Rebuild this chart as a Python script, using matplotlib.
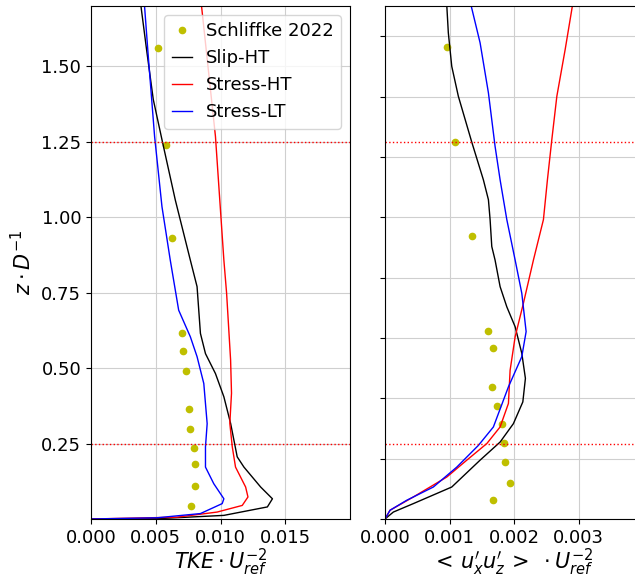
import numpy as np
import matplotlib
matplotlib.use("Agg")
import matplotlib.pyplot as plt

# reference measurements (Schliffke 2022)
ref_tke_z = [1.56, 1.24, 0.932, 0.617, 0.556, 0.49, 0.363, 0.297, 0.235, 0.181, 0.109, 0.043]
ref_tke = [0.00514, 0.00581, 0.00628, 0.00703, 0.00711, 0.00734, 0.00757, 0.00765, 0.00798, 0.00804, 0.00804, 0.00775]
ref_uw_z = [1.563, 1.249, 0.937, 0.624, 0.566, 0.438, 0.374, 0.315, 0.252, 0.188, 0.119, 0.062]
ref_uw = [0.000966, 0.00108, 0.00135, 0.0016, 0.00167, 0.00165, 0.00174, 0.00181, 0.00184, 0.00186, 0.00193, 0.00167]

# TKE profiles
tke_slip_z = [1.702, 1.546, 1.39, 1.257, 1.057, 0.858, 0.77, 0.615, 0.548, 0.482, 0.405, 0.317,
              0.206, 0.172, 0.106, 0.067, 0.04, 0.012, 0.001, 0.0]
tke_slip = [0.00385, 0.00432, 0.00481, 0.00548, 0.00651, 0.00767, 0.00819, 0.00845, 0.00884, 0.00961,
            0.01026, 0.01078, 0.01129, 0.01181, 0.0131, 0.01401, 0.01362, 0.01026, 0.00509, 0.0]
tke_sht_z = [1.702, 1.268, 0.858, 0.749, 0.527, 0.417, 0.317, 0.239, 0.172, 0.106, 0.073, 0.045,
             0.023, 0.006, 0.0]
tke_sht = [0.00853, 0.00961, 0.01026, 0.01047, 0.01078, 0.01085, 0.01072, 0.01091, 0.01116, 0.01194,
           0.01212, 0.01168, 0.00974, 0.00664, 0.0]
tke_slt_z = [1.702, 1.546, 1.268, 1.035, 0.858, 0.692, 0.604, 0.538, 0.449, 0.316, 0.239, 0.172,
             0.117, 0.067, 0.051, 0.018, 0.004, 0.0]
tke_slt = [0.00413, 0.0044, 0.00491, 0.00548, 0.00612, 0.00677, 0.00767, 0.00819, 0.00871, 0.00897,
           0.00884, 0.00884, 0.00948, 0.01026, 0.01013, 0.00845, 0.00509, 0.0]

# <u'x u'z> profiles
uw_slip_z = [1.702, 1.611, 1.5, 1.401, 1.249, 1.124, 1.058, 0.992, 0.903, 0.858, 0.77, 0.703, 0.637,
             0.549, 0.466, 0.388, 0.316, 0.255, 0.195, 0.106, 0.051, 0.023, 0.0]
uw_slip = [0.000957, 0.000981, 0.001034, 0.001136, 0.001344, 0.001524, 0.001602, 0.001628, 0.001654,
           0.001705, 0.001783, 0.001887, 0.002016, 0.002119, 0.002175, 0.002135, 0.001989, 0.001783,
           0.001473, 0.001034, 0.000439, 0.000129, 0.0]
uw_sht_z = [1.702, 1.556, 1.401, 1.257, 1.124, 0.992, 0.858, 0.715, 0.604, 0.493, 0.383, 0.305,
            0.25, 0.195, 0.139, 0.073, 0.029, 0.0]
uw_sht = [0.002904, 0.002791, 0.002662, 0.002584, 0.002516, 0.002454, 0.002299, 0.002144, 0.002016,
          0.001938, 0.001912, 0.001783, 0.001577, 0.001267, 0.000957, 0.000439, 0.000078, 0.0]
uw_slt_z = [1.702, 1.578, 1.412, 1.235, 1.124, 0.992, 0.858, 0.748, 0.621, 0.538, 0.438, 0.305,
            0.244, 0.172, 0.106, 0.062, 0.029, 0.0]
uw_slt = [0.001333, 0.001473, 0.001602, 0.001705, 0.001783, 0.001887, 0.002016, 0.002119, 0.002186,
          0.002119, 0.001912, 0.001679, 0.001447, 0.001112, 0.000749, 0.000336, 0.000078, 0.0]

hlines = [0.25, 1.25]

plt.rcParams['font.size'] = 13
plt.rcParams['grid.color'] = '#cfcfcf'

fig = plt.figure(figsize=(6.35, 5.78), dpi=100)
W, H = 635, 578
ax1 = fig.add_axes([91 / W, (H - 519) / H, 259 / W, 513 / H])
ax2 = fig.add_axes([385 / W, (H - 519) / H, 255 / W, 513 / H])

ax1.plot(ref_tke, ref_tke_z, 'o', color='y', markersize=4.5, label='Schliffke 2022')
ax1.plot(tke_slip, tke_slip_z, color='k', lw=1, label='Slip-HT')
ax1.plot(tke_sht, tke_sht_z, color='r', lw=1, label='Stress-HT')
ax1.plot(tke_slt, tke_slt_z, color='b', lw=1, label='Stress-LT')
for h in hlines:
    ax1.axhline(h, color='r', ls=':', lw=1)
ax1.set_xlim(0, 0.02)
ax1.set_ylim(0, 1.7)
ax1.set_xticks([0.0, 0.005, 0.01, 0.015])
ax1.set_xticklabels(['0.000', '0.005', '0.010', '0.015'])
ax1.set_yticks([0.25, 0.5, 0.75, 1.0, 1.25, 1.5])
ax1.set_yticklabels(['0.25', '0.50', '0.75', '1.00', '1.25', '1.50'])
ax1.grid(True)
ax1.set_xlabel(r'$TKE \cdot U_{ref}^{-2}$', fontsize=15, labelpad=0)
ax1.set_ylabel(r'$z \cdot D^{-1}$', fontsize=15, labelpad=4)
ax1.legend(loc='upper right', handlelength=1.1)

ax2.plot(ref_uw, ref_uw_z, 'o', color='y', markersize=4.5)
ax2.plot(uw_slip, uw_slip_z, color='k', lw=1)
ax2.plot(uw_sht, uw_sht_z, color='r', lw=1)
ax2.plot(uw_slt, uw_slt_z, color='b', lw=1)
for h in hlines:
    ax2.axhline(h, color='r', ls=':', lw=1)
ax2.set_xlim(0, 0.00395)
ax2.set_ylim(0, 1.7)
ax2.set_xticks([0.0, 0.001, 0.002, 0.003])
ax2.set_xticklabels(['0.000', '0.001', '0.002', '0.003'])
ax2.set_yticks(np.arange(0, 1.61, 0.2))
ax2.set_yticklabels([])
ax2.grid(True)
ax2.set_xlabel(r"$<\, u_x^{\prime} u_z^{\prime}\, >\ \cdot U_{ref}^{-2}$", fontsize=15, labelpad=0)

fig.savefig('out.png', dpi=100)
